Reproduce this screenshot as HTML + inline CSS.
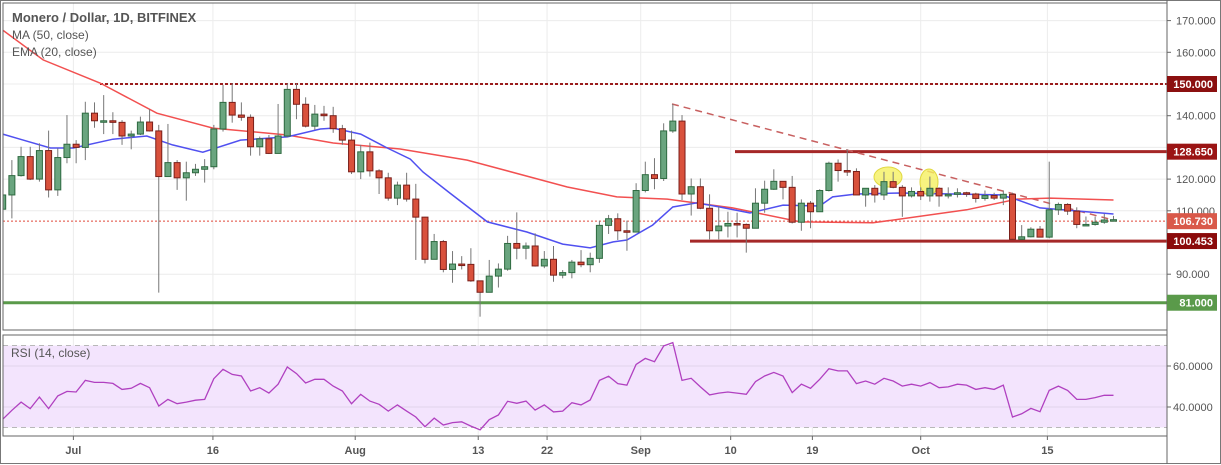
<!DOCTYPE html>
<html><head><meta charset="utf-8">
<style>
html,body{margin:0;padding:0;background:#fff;}
svg{display:block;font-family:"Liberation Sans",sans-serif;}
</style></head>
<body>
<svg id="chart" width="1221" height="465" viewBox="0 0 1221 465"></svg>
<script>
const closes=[115,121.1,127.1,120,129,116.6,126.8,131,130,140.8,138.4,138.4,137.9,133.6,134.2,138,135.2,120.8,125.2,120.4,122,123.1,123.9,135.8,144.2,140.2,139.5,130.2,132.7,128.1,133.6,148.3,143.6,136.7,140.5,140,135.9,132.3,122.3,128.6,122.6,120.4,114,118.1,113.7,108,94.7,100.3,91.5,93.2,93.1,87.9,84.3,89.4,91.6,99.7,98.2,98.9,92.6,94.7,89.7,90.5,93.8,93,95,105.4,107.5,103.7,103.3,116.4,121.4,120.2,135.2,138.3,115.3,117.6,110.8,103.7,105.2,106,105.7,104.5,112.4,116.8,119.3,117.4,106.4,112.4,109.7,116.4,125,122.7,122.4,115,117.1,115,119.2,117.4,114.7,116.1,114.7,117.1,114.7,115.2,115.7,115.3,113.9,114.8,114,115.2,101,101.8,104.2,101.7,110.3,112,109.9,105.7,105.7,106.4,107.1,107.2];
const highs=[116,126,130.2,130.2,131.3,135.3,129.7,140.2,132.3,144.4,144.2,146.5,141.1,138.6,135.3,139.7,142.1,137.1,137.4,126,125.5,124.8,126.3,137.1,149.7,150.2,144.2,140.4,133.4,133.9,143.7,150.2,150.2,145.8,143.4,143.1,142.8,137.1,135.3,130.8,131.5,123.1,122,119.2,122,118.5,108.1,102.7,100.8,97.3,95.7,98.2,88,94.5,93.4,102.1,109.5,100,102.9,97.3,98.9,91.3,94.5,97.6,96.8,106.9,108.7,109.2,106.9,118.7,125.5,126.6,137.6,143.7,140.2,120.2,120.2,115.2,111.3,109.7,109.4,106,117.1,119.5,123.1,119.2,121,113.6,113.1,116.8,125.5,126.2,129.4,123.4,117.1,118.1,122.3,122.3,118.1,117.4,117.4,120.8,117.4,117.4,117.1,116,115.7,116.4,115.7,116.4,115.7,105.5,104.8,105.2,125.5,112.6,112.4,111.1,108.2,108.2,109,108.4];
const lows=[108,107.6,120.8,119.7,119.2,114.2,114.7,125,125,126,136.2,134.2,134.2,130.8,129.4,133.9,135,84.2,121,116.6,113.2,121,118.9,123.1,135,137.8,138.4,127.4,127.4,127.9,128.1,133.2,138.9,136.3,135.5,138.4,134.6,130.8,121.6,120,120.8,115.3,113.2,111.8,112.9,94.5,93.4,94.7,90.6,87.3,91.5,87.6,76.6,84.3,85.8,91.1,94.7,94.7,92.4,91.9,87.6,88.7,88.7,92.2,90.6,93.6,102.7,100.8,97.4,103.4,115.8,116.8,119.4,134.6,113.4,108.5,110.5,101,101,101.6,101.6,96.8,104.5,109.4,116.6,113.6,106,103.7,104.5,109.7,116.1,119.2,121,115,111.3,112.6,113.4,117.1,108.1,114.2,113.4,112.9,111.3,113.9,114.2,114.4,112.6,113.2,113.4,111.8,100.8,100.8,101.6,101.6,101.3,108.7,108.7,104.5,105.6,105.3,105.9,106.6];
const firstOpen=110.5;
const maIdx=[0,4.4,10.6,16.8,22.9,31,36,43.3,50.6,61.5,66.9,72.4,79.5,86.9,94.8,105,110.5,114.1,121];
const maVals=[167,157.6,150.3,140.8,136.1,133.9,131.4,129.5,126,117.5,114.4,113.7,110.9,106.5,106.2,110.3,113.7,114,113.4];
const emaIdx=[0,1.9,5.2,7.7,12,15.7,18.5,21.8,25.9,31,34.6,36,39,41.9,44.4,45.8,48.7,52.8,57.1,61,64,66.5,68,70.8,73,75.6,78.1,81.4,85,89,90.4,93,97.7,108.6,110,113,121];
const emaVals=[134.2,132.6,129.8,129.8,132.6,133.6,130.8,128.5,132.3,133.3,135.8,136.1,134.2,129.8,126.3,122.2,115.6,106.5,103.3,99.5,98.3,100.2,100.8,105.5,111.2,112.5,111.2,109.3,111.8,111.5,114.4,115.3,115.6,115,114,110.9,109];
const rsiVals=[34,38.4,42.4,39.2,44.9,39.2,45.4,47.6,47.3,53,52,52,51.5,48.6,49.1,51.5,49.4,40.5,43.7,41.6,42.4,43.3,43.7,53.8,58.4,55.9,55.1,47.8,49.4,46.8,51.1,59.5,56.3,51.7,53.5,53.5,50.2,47.8,41.6,46.2,42.9,41.3,38,41,38,35.1,30.4,34.6,31.2,32.4,32.8,30.7,28.9,33.8,36.1,42.8,41.8,42.9,38.5,41,37.6,38,
42.1,41,43.4,53,55,51.4,50.7,60.8,63.7,62.1,69.8,71.4,53,54,49.8,45.9,46.8,47.3,46.8,46.2,52.4,55.1,56.9,55.1,47,51.1,49.1,53.5,58.7,57.6,57.6,51.4,52.7,51.1,54,52.7,50.2,51.1,50.2,51.9,49.4,49.8,51.1,50.7,48.6,49.4,48.6,50.7,35.1,36.7,39.3,37.7,48.1,50.2,48.1,43.7,43.7,44.6,45.7,45.7];
const priceTicks=[170,160,150,140,130,120,110,90];
const rsiTicks=[60,40];
const dateLabels=["Jul","16","Aug","13","22","Sep","10","19","Oct","15"];
const dateIdx=[7.7,22.9,38.4,51.8,59.3,69.5,79.3,88.2,100,113.8];

const NS="http://www.w3.org/2000/svg";
const svg=document.getElementById('chart');
const PR=1167;
const px=i=>2.7+i*9.18;
const py=p=>84+(150-p)*3.17;
const ry=v=>366+(60-v)*2.05;
function mk(tag,attrs,parent){const e=document.createElementNS(NS,tag);for(const k in attrs)e.setAttribute(k,attrs[k]);(parent||svg).appendChild(e);return e;}

// panes clip
const defs=mk('defs',{});
const cp=mk('clipPath',{id:'mainclip'},defs);mk('rect',{x:3,y:3,width:PR-3,height:327},cp);
const cp2=mk('clipPath',{id:'rsiclip'},defs);mk('rect',{x:3,y:336,width:PR-3,height:100},cp2);

const grid=mk('g',{});


priceTicks.forEach(t=>{mk('line',{x1:3,x2:PR,y1:py(t),y2:py(t),stroke:'#ececec','stroke-width':1},grid);});
dateIdx.forEach(d=>{mk('line',{x1:px(d),x2:px(d),y1:3,y2:436,stroke:'#ececec','stroke-width':1},grid);});

// main pane
const main=mk('g',{'clip-path':'url(#mainclip)'});


// support/resistance lines
const l150=mk('line',{x1:100,x2:PR,y1:py(150),y2:py(150),stroke:'#9b1c1c','stroke-width':2,'stroke-dasharray':'3,2'},main);


const l128=mk('line',{x1:735,x2:PR,y1:py(128.65),y2:py(128.65),stroke:'#a52828','stroke-width':3},main);


const l100=mk('line',{x1:690,x2:PR,y1:py(100.453),y2:py(100.453),stroke:'#a52828','stroke-width':3},main);


const l81=mk('line',{x1:3,x2:PR,y1:py(81),y2:py(81),stroke:'#5a9a4a','stroke-width':3},main);


const lcur=mk('line',{x1:3,x2:PR,y1:py(106.73),y2:py(106.73),stroke:'#e0483a','stroke-width':1,'stroke-dasharray':'2,2'},main);


const trend=mk('line',{x1:672,y1:104,x2:1113,y2:220,stroke:'#c86060','stroke-width':1.5,'stroke-dasharray':'7,5'},main);



function pathFrom(idx,vals){return idx.map((d,k)=>(k?'L':'M')+px(d).toFixed(1)+','+py(vals[k]).toFixed(1)).join(' ');}
const ma=mk('path',{d:pathFrom(maIdx,maVals),fill:'none',stroke:'#f25050','stroke-width':1.5},main);


const ema=mk('path',{d:pathFrom(emaIdx,emaVals),fill:'none',stroke:'#5050f0','stroke-width':1.5},main);



// ellipses
const e1=mk('ellipse',{cx:888,cy:177,rx:14,ry:10,fill:'#f5f060','fill-opacity':0.8,stroke:'#e0d840'},main);


const e2=mk('ellipse',{cx:929,cy:182,rx:9,ry:13,fill:'#f5f060','fill-opacity':0.8,stroke:'#e0d840'},main);



// candles
const cg=mk('g',{},main);


closes.forEach((c,i)=>{
  const o=i?closes[i-1]:firstOpen;
  const up=c>=o;
  const x=px(i);
  const g=mk('g',{},cg);
  
  
  const hi=highs[i]!==undefined?highs[i]:Math.max(o,c);
  const lo=lows[i]!==undefined?lows[i]:Math.min(o,c);
  mk('line',{x1:x,x2:x,y1:py(hi),y2:py(lo),stroke:'#777','stroke-width':1},g);
  const top=py(Math.max(o,c)),bot=py(Math.min(o,c));
  mk('rect',{x:x-3,y:top,width:6,height:Math.max(1.5,bot-top),fill:up?'#6aa57f':'#d9513c',stroke:up?'#2e6a40':'#7a1f1a','stroke-width':1},g);
});

// RSI pane
const rg=mk('g',{'clip-path':'url(#rsiclip)'});


mk('rect',{x:3,y:ry(70),width:PR-3,height:ry(30)-ry(70),fill:'#f3e4fd'},rg);
rsiTicks.forEach(t=>mk('line',{x1:3,x2:PR,y1:ry(t),y2:ry(t),stroke:'#e2d4ea','stroke-width':1},rg));
[70,30].forEach(t=>mk('line',{x1:3,x2:PR,y1:ry(t),y2:ry(t),stroke:'#b8b8b8','stroke-width':1,'stroke-dasharray':'5,4'},rg));
const rl=mk('path',{d:rsiVals.map((v,i)=>(i?'L':'M')+px(i).toFixed(1)+','+ry(v).toFixed(1)).join(' '),fill:'none',stroke:'#b040c0','stroke-width':1.3},rg);



// frames
mk('rect',{x:3,y:3,width:PR-3,height:327,fill:'none',stroke:'#666','stroke-width':1});
mk('rect',{x:3,y:335,width:PR-3,height:101,fill:'none',stroke:'#666','stroke-width':1});
mk('rect',{x:0.5,y:0.5,width:1220,height:463,fill:'none',stroke:'#777','stroke-width':1});
mk('line',{x1:PR,x2:PR,y1:0,y2:464,stroke:'#666','stroke-width':1});

// price axis
function txt(s,attrs,name,inter){const t=mk('text',attrs);t.textContent=s;return t;}
priceTicks.forEach(t=>{
  mk('line',{x1:PR,x2:PR+4,y1:py(t),y2:py(t),stroke:'#666'});
  txt(t.toFixed(3),{x:1176,y:py(t)+4,'font-size':11,fill:'#555'},'price-tick-label','false');
});
rsiTicks.forEach(t=>{
  mk('line',{x1:PR,x2:PR+4,y1:ry(t),y2:ry(t),stroke:'#666'});
  txt(t.toFixed(4),{x:1173,y:ry(t)+4,'font-size':11,fill:'#555'},'rsi-tick-label','false');
});
const boxes=[[150,'150.000','#8b1010'],[128.65,'128.650','#9b1414'],[106.73,'106.730','#d9594a'],[100.453,'100.453','#8b0a0a'],[81,'81.000','#5a9a4a']];
boxes.forEach(b=>{
  const r=mk('rect',{x:PR,y:py(b[0])-8,width:50,height:16,fill:b[2]});
  
  
  txt(b[1],{x:1213,y:py(b[0])+4,'font-size':11,fill:'#fff','text-anchor':'end','font-weight':'bold'},'price-label','false');
});

// date axis
dateLabels.forEach((s,k)=>{
  mk('line',{x1:px(dateIdx[k]),x2:px(dateIdx[k]),y1:436,y2:440,stroke:'#666'});
  txt(s,{x:px(dateIdx[k]),y:454,'font-size':11,fill:'#555','text-anchor':'middle','font-weight':'bold'},'date-label','false');
});

// legends
txt('Monero / Dollar, 1D, BITFINEX',{x:12,y:22,'font-size':13,fill:'#555','font-weight':'bold'},'chart-title','false');
txt('MA (50, close)',{x:12,y:39,'font-size':12,fill:'#555'},'ma-legend','true');
txt('EMA (20, close)',{x:12,y:56,'font-size':12,fill:'#555'},'ema-legend','true');
txt('RSI (14, close)',{x:11,y:357,'font-size':12,fill:'#555'},'rsi-legend','true');
</script>
</body></html>
